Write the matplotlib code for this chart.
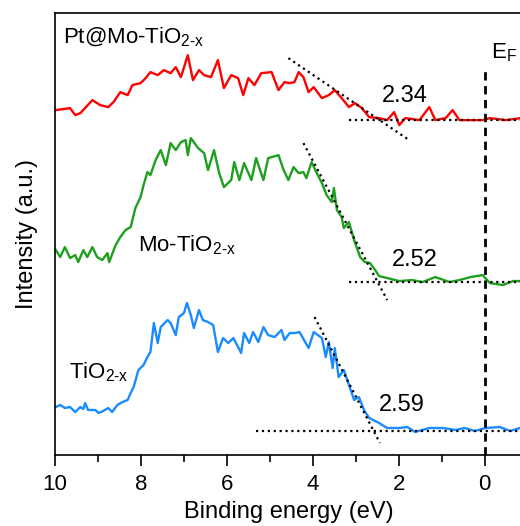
import matplotlib
matplotlib.use("Agg")
import matplotlib.pyplot as plt
from matplotlib.ticker import MultipleLocator

plt.rcParams['font.family'] = ['Liberation Sans', 'DejaVu Sans']
plt.rcParams['mathtext.fontset'] = 'custom'
plt.rcParams['mathtext.rm'] = 'Liberation Sans'

# --- data (binding energy in eV, intensity in a.u., curves already offset) ---
pt_be = [9.98, 9.65, 9.53, 9.41, 9.13, 8.95, 8.76, 8.64, 8.48, 8.31, 8.20, 8.01, 7.89, 7.78,
         7.61, 7.47, 7.31, 7.19, 7.07, 6.91, 6.79, 6.65, 6.53, 6.37, 6.21, 6.07, 5.90, 5.74,
         5.62, 5.50, 5.36, 5.20, 4.96, 4.80, 4.66, 4.54, 4.43, 4.33, 4.22, 4.10, 3.98, 3.79,
         3.63, 3.49, 3.33, 3.16, 3.02, 2.86, 2.69, 2.46, 2.27, 2.11, 1.99, 1.85, 1.52, 1.29,
         1.15, 0.91, 0.75, 0.59, 0.28, 0.05, -0.12, -0.49, -0.84]
pt_int = [345, 347, 340, 342, 355, 350, 348, 353, 363, 360, 370, 372, 377, 383,
          380, 385, 382, 388, 378, 400, 375, 385, 380, 378, 395, 367, 380, 377,
          360, 377, 370, 382, 383, 365, 373, 372, 373, 383, 378, 363, 368, 357,
          360, 365, 357, 348, 352, 347, 338, 337, 335, 343, 330, 337, 335, 348,
          335, 337, 345, 335, 335, 335, 337, 335, 337]

mo_be = [9.98, 9.88, 9.77, 9.65, 9.53, 9.46, 9.34, 9.25, 9.13, 9.02, 8.90, 8.78, 8.74, 8.59,
         8.48, 8.36, 8.24, 8.13, 8.01, 7.94, 7.85, 7.78, 7.66, 7.54, 7.42, 7.31, 7.19, 7.07,
         6.96, 6.91, 6.84, 6.67, 6.53, 6.44, 6.30, 6.18, 6.07, 5.90, 5.83, 5.71, 5.60, 5.43,
         5.32, 5.15, 5.04, 4.80, 4.68, 4.57, 4.45, 4.33, 4.22, 4.15, 4.03, 3.91, 3.79, 3.68,
         3.56, 3.51, 3.44, 3.33, 3.28, 3.16, 3.04, 2.90, 2.79, 2.67, 2.55, 2.46, 2.27, 1.99,
         1.69, 1.45, 1.15, 0.82, 0.59, 0.33, 0.05, -0.12, -0.42, -0.66, -0.84]
mo_int = [205, 198, 208, 197, 200, 193, 205, 198, 208, 198, 195, 202, 193, 210,
          218, 225, 228, 247, 258, 270, 283, 280, 295, 305, 290, 312, 305, 313,
          315, 300, 317, 307, 302, 285, 305, 282, 268, 275, 293, 275, 292, 275,
          297, 275, 297, 300, 285, 275, 288, 282, 283, 277, 293, 282, 272, 260,
          253, 267, 245, 238, 227, 233, 215, 198, 193, 192, 185, 179, 177, 174,
          175, 173, 178, 173, 175, 178, 180, 172, 170, 174, 174]

ti_be = [9.98, 9.88, 9.77, 9.65, 9.53, 9.41, 9.34, 9.30, 9.23, 9.06, 8.99, 8.88, 8.76, 8.67,
         8.55, 8.43, 8.31, 8.24, 8.17, 8.06, 7.94, 7.85, 7.78, 7.70, 7.61, 7.54, 7.38, 7.31,
         7.19, 7.12, 7.00, 6.93, 6.84, 6.77, 6.65, 6.56, 6.44, 6.32, 6.21, 6.09, 5.97, 5.85,
         5.74, 5.67, 5.60, 5.48, 5.39, 5.27, 5.15, 5.04, 4.89, 4.73, 4.66, 4.54, 4.43, 4.31,
         4.10, 3.98, 3.79, 3.70, 3.63, 3.54, 3.49, 3.40, 3.28, 3.16, 3.04, 2.93, 2.81, 2.69,
         2.46, 2.27, 1.99, 1.80, 1.62, 1.29, 0.98, 0.68, 0.47, 0.23, -0.02, -0.35, -0.59, -0.82]
ti_int = [48, 50, 47, 48, 43, 48, 46, 52, 45, 45, 42, 44, 47, 43,
          50, 53, 55, 62, 68, 85, 90, 98, 103, 132, 112, 128, 135, 132,
          120, 138, 142, 152, 140, 127, 145, 135, 133, 130, 103, 117, 112, 117,
          108, 102, 122, 112, 123, 113, 128, 120, 118, 125, 115, 122, 122, 123,
          107, 123, 117, 98, 113, 87, 107, 78, 85, 70, 55, 58, 45, 37,
          32, 27, 27, 28, 23, 27, 27, 25, 27, 24, 27, 28, 24, 27]

# linear extrapolation guides (tangent and baseline) per sample
pt_tan_be, pt_tan_int = [4.57, 1.76], [397, 315]
pt_base_be, pt_base_int = [3.16, -0.9], [335, 335]
mo_tan_be, mo_tan_int = [4.22, 2.27], [312, 155]
mo_base_be, mo_base_int = [3.16, -0.9], [173, 173]
ti_tan_be, ti_tan_int = [3.96, 2.44], [138, 12]
ti_base_be, ti_base_int = [5.32, -0.9], [24, 24]

edges = ['2.34', '2.52', '2.59']
names = ['Pt@Mo-TiO$_\\mathregular{2\\text{-}x}$', 'Mo-TiO$_\\mathregular{2\\text{-}x}$',
         'TiO$_\\mathregular{2\\text{-}x}$']

red, green, blue = '#ff0000', '#1ea01e', '#1a8cff'

fig = plt.figure(figsize=(5.2, 5.26), dpi=100)
ax = fig.add_axes([0.1058, 0.135, 0.9, 0.84])

ax.plot(pt_be, pt_int, color=red, lw=1.7)
ax.plot(mo_be, mo_int, color=green, lw=1.7)
ax.plot(ti_be, ti_int, color=blue, lw=1.7)

for tb, ti, bb, bi in [(pt_tan_be, pt_tan_int, pt_base_be, pt_base_int),
                       (mo_tan_be, mo_tan_int, mo_base_be, mo_base_int),
                       (ti_tan_be, ti_tan_int, ti_base_be, ti_base_int)]:
    ax.plot(tb, ti, color='black', ls=':', lw=1.6)
    ax.plot(bb, bi, color='black', ls=':', lw=1.6)

# Fermi level
ax.plot([0, 0], [0, 386], color='black', ls=(0, (3, 2)), lw=2)
ax.text(-0.14, 397, 'E$_\\mathregular{F}$', fontsize=16, ha='left', va='baseline')

ax.text(1.87, 359, edges[0], fontsize=17, ha='center', va='center')
ax.text(1.62, 195, edges[1], fontsize=17, ha='center', va='center')
ax.text(1.92, 50, edges[2], fontsize=17, ha='center', va='center')

ax.text(9.81, 412, names[0], fontsize=16, ha='left', va='baseline')
ax.text(8.08, 204, names[1], fontsize=16, ha='left', va='baseline')
ax.text(9.67, 77, names[2], fontsize=16, ha='left', va='baseline')

ax.set_xlim(10, -0.89)
ax.set_ylim(0, 442)
ax.xaxis.set_major_locator(MultipleLocator(2))
ax.xaxis.set_minor_locator(MultipleLocator(1))
ax.set_yticks([])
ax.tick_params(axis='x', which='major', direction='out', length=8, width=1.2, labelsize=16, pad=6)
ax.tick_params(axis='x', which='minor', direction='out', length=5, width=1.2)
for s in ax.spines.values():
    s.set_linewidth(1.2)
ax.spines['right'].set_visible(False)

ax.set_xlabel('Binding energy (eV)', fontsize=17, labelpad=4)
ax.set_ylabel('Intensity (a.u.)', fontsize=17, labelpad=12)

fig.savefig('out.png', dpi=100)
